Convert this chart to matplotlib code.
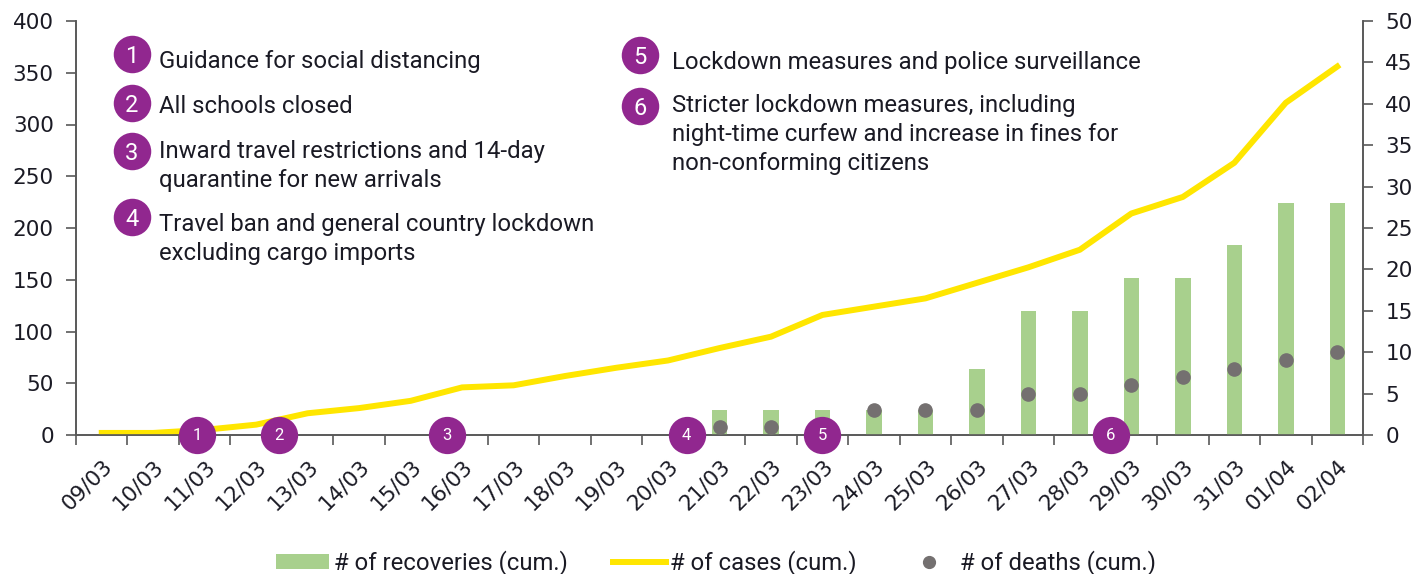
import matplotlib
matplotlib.use("Agg")
import matplotlib.pyplot as plt
from matplotlib.lines import Line2D
from matplotlib.patches import Patch
import numpy as np

plt.rcParams['font.family'] = ['Roboto', 'DejaVu Sans']

dates = ["09/03", "10/03", "11/03", "12/03", "13/03", "14/03", "15/03", "16/03",
         "17/03", "18/03", "19/03", "20/03", "21/03", "22/03", "23/03", "24/03",
         "25/03", "26/03", "27/03", "28/03", "29/03", "30/03", "31/03", "01/04", "02/04"]
cases = [2, 2, 5, 10, 21, 26, 33, 46, 48, 57, 65, 72, 84, 95, 116, 124,
         132, 147, 162, 179, 214, 230, 263, 321, 356]
recoveries = [0, 0, 0, 0, 0, 0, 0, 0, 0, 0, 0, 0, 3, 3, 3, 3,
              3, 8, 15, 15, 19, 19, 23, 28, 28]
deaths = [np.nan] * 12 + [1, 1, 1, 3, 3, 3, 5, 5, 6, 7, 8, 9, 10]

events = ["1", "2", "3", "4", "5", "6"]
event_text = [
    "Guidance for social distancing",
    "All schools closed",
    "Inward travel restrictions and 14-day\nquarantine for new arrivals",
    "Travel ban and general country lockdown\nexcluding cargo imports",
    "Lockdown measures and police surveillance",
    "Stricter lockdown measures, including\nnight-time curfew and increase in fines for\nnon-conforming citizens",
]
# where each numbered marker sits on the date axis
event_x = [1.85, 3.44, 6.7, 11.36, 14.0, 19.6]

YELLOW = "#FFE600"
GREEN = "#A8D08D"
GREY = "#747070"
PURPLE = "#91278F"
AXIS = "#595959"
TEXT = "#1A1A24"
NUMFONT = ['DejaVu Sans']

W, H = 1418, 574
fig = plt.figure(figsize=(W / 100, H / 100), dpi=100)
ax = fig.add_axes([76 / W, 1 - 435 / H, 1287 / W, 414 / H])
ax2 = ax.twinx()

x = np.arange(len(dates))
ax.plot(x, cases, color=YELLOW, lw=4.3, solid_joinstyle='round', zorder=3)
ax2.bar(x, recoveries, width=0.3, color=GREEN, zorder=2)
ax2.plot(x, deaths, 'o', color=GREY, ms=9.5, zorder=3)

ax.set_xlim(-0.5, len(dates) - 0.5)
ax.set_ylim(0, 400)
ax2.set_ylim(0, 50)
ax.set_yticks(np.arange(0, 401, 50))
ax2.set_yticks(np.arange(0, 51, 5))

ax.set_xticks(x)
ax.set_xticklabels(dates, rotation=45, ha='right', rotation_mode='anchor', family=NUMFONT)
ax.set_xticks(np.arange(-0.5, len(dates)), minor=True)
ax.tick_params(axis='x', which='major', length=0, pad=15, labelsize=15.5, labelcolor=TEXT)
ax.tick_params(axis='x', which='minor', length=7, width=1.2, color=AXIS)
for a in (ax, ax2):
    a.tick_params(axis='y', length=7, width=1.2, color=AXIS, pad=9, labelsize=15.5, labelcolor=TEXT)
    for t in a.get_yticklabels():
        t.set_family(NUMFONT)
    a.spines['top'].set_visible(False)
    for s in ('left', 'right', 'bottom'):
        a.spines[s].set_color(AXIS)
        a.spines[s].set_linewidth(1.2)

# numbered event markers along the date axis
for lab, ex in zip(events, event_x):
    ax2.scatter(ex, 0, s=720, color=PURPLE, lw=0, zorder=10, clip_on=False)
    ax2.text(ex, 0, lab, color='white', fontsize=12, ha='center', va='center',
             zorder=11, clip_on=False)

# event key: circle centre and first-line baseline, in pixels from top-left
key_circle = [(132, 54), (132, 103), (132, 151), (132, 217), (640, 55), (640, 106)]
key_text = [(159, 68), (159, 113), (159, 158), (159, 231), (672, 69), (672, 112)]
for lab, txt, (cx, cy), (tx, ty) in zip(events, event_text, key_circle, key_text):
    fig.add_artist(Line2D([cx / W], [1 - cy / H], marker='o', ms=27, color=PURPLE,
                          mew=0, transform=fig.transFigure, zorder=10))
    fig.text(cx / W, 1 - cy / H, lab, color='white', fontsize=17, ha='center',
             va='center_baseline', zorder=11)
    for k, line in enumerate(txt.split("\n")):
        fig.text(tx / W, 1 - (ty + 29 * k) / H, line, color=TEXT, fontsize=17.2,
                 ha='left', va='baseline', zorder=11)

handles = [
    Patch(facecolor=GREEN, label="# of recoveries (cum.)"),
    Line2D([], [], color=YELLOW, lw=4.3, label="# of cases (cum.)"),
    Line2D([], [], marker='o', ls='none', color=GREY, ms=8.5, label="# of deaths (cum.)"),
]
fig.legend(handles=handles, loc='center', bbox_to_anchor=(716 / W, 1 - 563 / H), ncol=3,
           frameon=False, fontsize=17.2, handlelength=2.2, handleheight=0.6,
           columnspacing=1.9, handletextpad=0.2, labelcolor=TEXT, borderpad=0)

fig.savefig("out.png", dpi=100)
